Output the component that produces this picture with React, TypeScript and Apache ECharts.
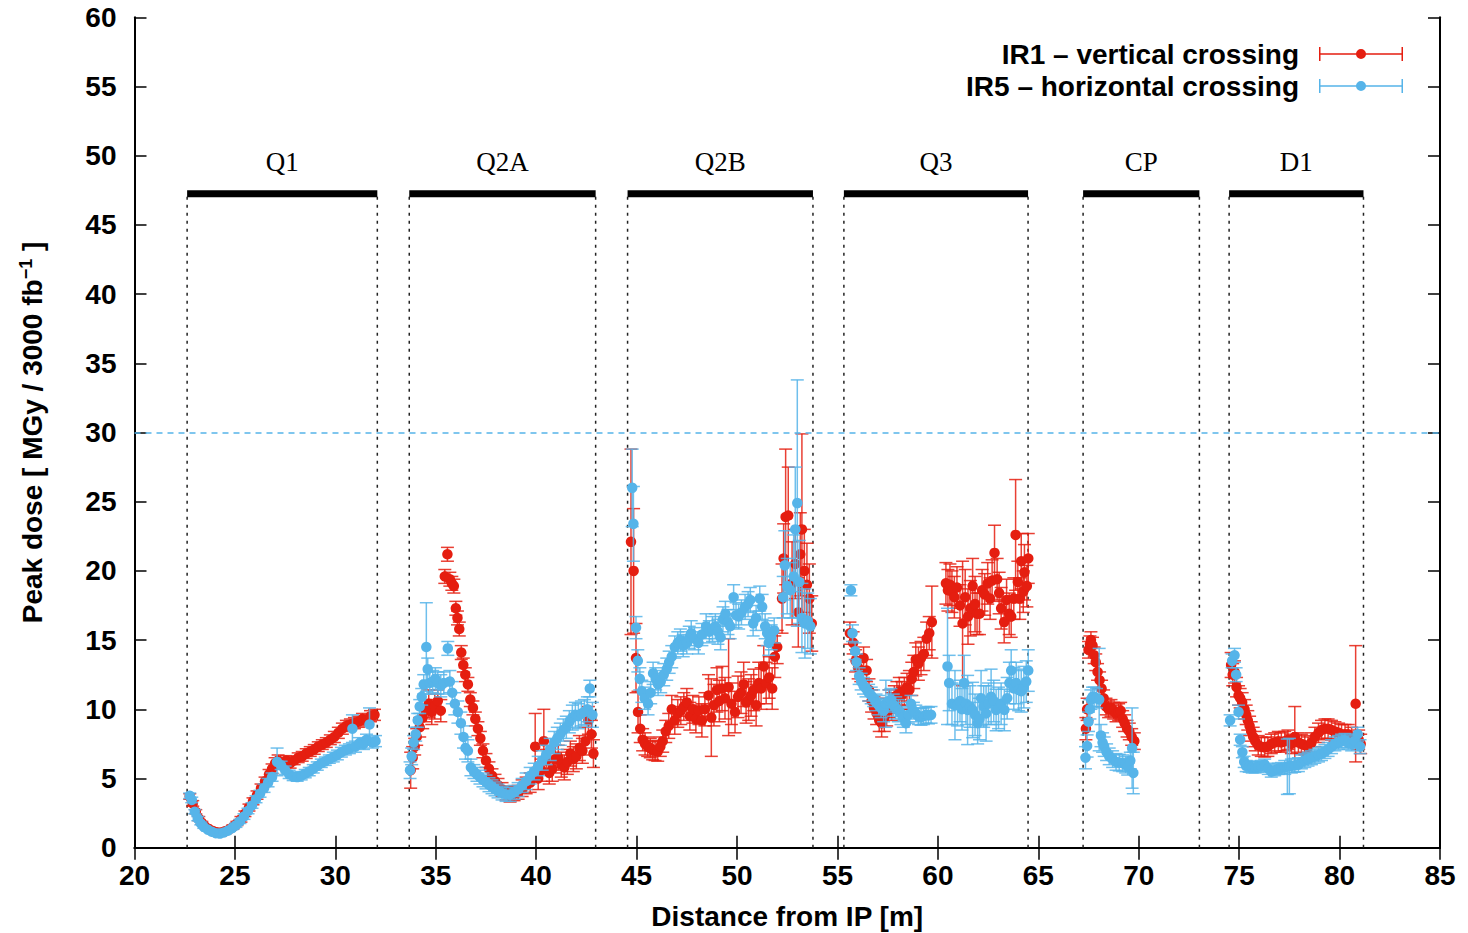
import React, { useEffect, useRef } from "react";
import * as echarts from "echarts";

// ---------- magnets ----------
const magnetNames = ["Q1", "Q2A", "Q2B", "Q3", "CP", "D1"];
const magnetStart = [22.62, 33.68, 44.55, 55.32, 67.23, 74.5];
const magnetEnd = [32.09, 42.96, 53.78, 64.49, 73.02, 81.19];
const magnetBarLevel = 47.25;
const magnetLabelLevel = 49.55;
const doseLimit = 30;

// ---------- axes ----------
const xTicks = [20, 25, 30, 35, 40, 45, 50, 55, 60, 65, 70, 75, 80, 85];
const yTicks = [0, 5, 10, 15, 20, 25, 30, 35, 40, 45, 50, 55, 60];

// ---------- IR1 – vertical crossing : [distance m, dose MGy, error] ----------
const ir1Q1 = [
  [22.75, 3.7, 0.2], [22.9, 3.2, 0.2], [23.05, 2.6, 0.15], [23.2, 2.1, 0.15], [23.35, 1.8, 0.1],
  [23.5, 1.55, 0.1], [23.7, 1.35, 0.1], [23.9, 1.2, 0.1], [24.1, 1.12, 0.1], [24.3, 1.1, 0.1],
  [24.5, 1.18, 0.1], [24.7, 1.3, 0.1], [24.9, 1.5, 0.15], [25.1, 1.75, 0.15], [25.3, 2.05, 0.2],
  [25.5, 2.45, 0.2], [25.7, 2.9, 0.25], [25.9, 3.35, 0.25], [26.1, 3.8, 0.3], [26.3, 4.3, 0.3],
  [26.5, 4.8, 0.3], [26.7, 5.3, 0.35], [26.85, 5.7, 0.35], [27.0, 6.1, 0.4], [27.15, 6.3, 0.4],
  [27.35, 6.0, 0.3], [27.55, 6.3, 0.35], [27.75, 6.1, 0.35], [27.95, 6.3, 0.3], [28.15, 6.5, 0.35],
  [28.35, 6.6, 0.35], [28.55, 6.8, 0.35], [28.75, 6.95, 0.35], [28.95, 7.1, 0.35], [29.15, 7.3, 0.35],
  [29.35, 7.45, 0.35], [29.55, 7.6, 0.35], [29.75, 7.8, 0.35], [29.95, 8.0, 0.4], [30.15, 8.3, 0.4],
  [30.35, 8.6, 0.4], [30.55, 8.8, 0.4], [30.75, 8.9, 0.4], [30.95, 9.0, 0.4], [31.15, 9.1, 0.4],
  [31.35, 9.3, 0.4], [31.55, 9.2, 0.4], [31.75, 9.5, 0.4], [31.95, 9.6, 0.4],
];
const ir1Q2A = [
  [33.75, 5.6, 1.3], [33.85, 6.5, 0.8], [33.95, 7.3, 0.6], [34.05, 8.0, 0.6], [34.2, 8.7, 0.7],
  [34.35, 9.4, 0.8], [34.5, 9.9, 0.8], [34.65, 10.4, 1.0], [34.8, 9.8, 0.9], [34.95, 10.2, 0.9],
  [35.1, 10.6, 0.8], [35.25, 9.9, 0.8], [35.45, 19.6, 0.5], [35.58, 21.2, 0.5], [35.7, 19.4, 0.5],
  [35.8, 19.1, 0.5], [35.9, 18.9, 0.5], [36.0, 17.3, 0.5], [36.08, 16.6, 0.5], [36.17, 15.8, 0.5],
  [36.27, 14.1, 0.5], [36.37, 13.2, 0.5], [36.47, 12.5, 0.5], [36.6, 11.8, 0.5], [36.72, 10.7, 0.5],
  [36.85, 10.1, 0.5], [36.97, 9.3, 0.5], [37.1, 8.6, 0.5], [37.22, 7.9, 0.5], [37.35, 7.0, 0.5],
  [37.5, 6.3, 0.5], [37.65, 5.7, 0.5], [37.8, 5.2, 0.5], [37.95, 4.8, 0.5], [38.1, 4.5, 0.5],
  [38.3, 4.2, 0.5], [38.5, 3.95, 0.5], [38.7, 3.8, 0.5], [38.9, 3.9, 0.5], [39.1, 4.0, 0.5],
  [39.3, 4.3, 0.6], [39.5, 4.5, 0.6], [39.7, 4.7, 0.7], [39.95, 7.3, 2.4], [40.1, 5.0, 0.8],
  [40.25, 5.6, 0.8], [40.38, 7.7, 2.3], [40.5, 6.3, 0.8], [40.65, 5.4, 0.8], [40.8, 5.7, 0.9],
  [40.95, 6.4, 1.0], [41.1, 6.5, 0.9], [41.25, 6.0, 0.9], [41.4, 5.8, 0.9], [41.55, 6.2, 0.9],
  [41.7, 6.8, 0.9], [41.85, 6.4, 0.9], [42.0, 6.6, 0.9], [42.15, 7.2, 0.9], [42.3, 7.0, 0.9],
  [42.45, 7.7, 1.0], [42.6, 9.2, 1.0], [42.75, 8.2, 1.0], [42.85, 6.8, 1.0],
];
const ir1Q2B = [
  [44.72, 22.1, 6.7], [44.85, 20.0, 4.5], [44.97, 13.7, 2.5], [45.07, 9.8, 1.5], [45.18, 8.6, 1.0],
  [45.3, 7.8, 0.8], [45.42, 7.5, 0.8], [45.55, 7.3, 0.7], [45.68, 7.2, 0.7], [45.8, 7.05, 0.7],
  [45.92, 7.0, 0.7], [46.05, 6.95, 0.7], [46.18, 7.3, 0.7], [46.3, 7.7, 0.8], [46.45, 8.4, 0.8],
  [46.6, 8.8, 0.9], [46.75, 10.0, 1.0], [46.9, 9.2, 1.0], [47.05, 9.7, 1.0], [47.2, 9.9, 1.0],
  [47.35, 10.2, 1.0], [47.5, 10.5, 1.0], [47.65, 9.5, 1.0], [47.8, 10.0, 1.0], [47.95, 9.3, 1.0],
  [48.1, 9.9, 1.0], [48.25, 9.2, 1.2], [48.4, 10.0, 1.2], [48.58, 11.0, 1.5], [48.72, 9.4, 2.8],
  [48.85, 10.3, 1.5], [49.0, 11.4, 1.6], [49.12, 10.6, 1.5], [49.25, 11.5, 1.6], [49.4, 10.8, 1.5],
  [49.58, 11.6, 3.5], [49.72, 10.4, 1.5], [49.9, 9.8, 1.5], [50.05, 10.9, 1.5], [50.2, 11.2, 1.5],
  [50.33, 11.8, 1.6], [50.45, 10.5, 1.5], [50.58, 10.7, 1.5], [50.7, 11.0, 1.5], [50.83, 11.4, 1.5],
  [50.95, 10.3, 1.5], [51.08, 11.9, 1.5], [51.2, 11.5, 1.5], [51.33, 13.1, 1.5], [51.45, 11.9, 1.5],
  [51.6, 12.3, 1.5], [51.75, 11.5, 1.5], [51.88, 13.8, 1.5], [52.0, 14.5, 1.2], [52.24, 18.0, 2.5],
  [52.32, 20.9, 2.5], [52.42, 23.9, 4.9], [52.55, 24.0, 3.5], [52.74, 19.1, 3.0], [52.9, 20.5, 2.5],
  [53.05, 17.0, 2.5], [53.15, 21.2, 3.0], [53.23, 23.0, 6.9], [53.35, 20.0, 3.0], [53.48, 19.0, 3.0],
  [53.6, 18.0, 2.5], [53.72, 16.2, 2.0],
];
const ir1Q3 = [
  [55.62, 15.5, 0.8], [55.78, 14.8, 0.8], [55.9, 13.5, 0.8], [56.03, 13.0, 0.8], [56.16, 12.8, 0.8],
  [56.3, 13.7, 0.8], [56.45, 12.8, 0.8], [56.57, 11.4, 0.8], [56.7, 10.6, 0.8], [56.82, 10.1, 0.8],
  [56.95, 9.7, 0.8], [57.08, 9.2, 0.8], [57.2, 9.0, 1.0], [57.33, 9.4, 1.0], [57.45, 9.8, 1.0],
  [57.58, 10.4, 1.0], [57.7, 10.2, 1.0], [57.83, 10.7, 1.0], [57.96, 11.0, 1.0], [58.08, 11.3, 1.0],
  [58.2, 11.0, 1.0], [58.33, 11.3, 1.0], [58.46, 11.6, 1.0], [58.58, 11.4, 1.4], [58.7, 12.2, 1.2],
  [58.8, 12.7, 1.2], [58.9, 13.6, 1.2], [59.03, 13.3, 1.2], [59.16, 13.7, 1.2], [59.3, 14.0, 1.2],
  [59.44, 15.1, 1.2], [59.57, 15.5, 1.2], [59.7, 16.3, 2.6],
  [60.4, 19.1, 1.5], [60.5, 18.6, 1.5], [60.6, 19.0, 1.5], [60.7, 18.5, 1.5], [60.82, 18.1, 1.5],
  [60.95, 18.8, 1.5], [61.1, 17.5, 1.5], [61.23, 16.2, 4.5], [61.36, 18.1, 2.0], [61.5, 16.7, 2.0],
  [61.62, 17.3, 2.0], [61.73, 18.9, 2.0], [61.85, 17.6, 2.0], [61.95, 16.9, 1.5], [62.07, 16.9, 1.5],
  [62.2, 18.6, 1.5], [62.33, 18.3, 1.5], [62.48, 19.1, 1.5], [62.6, 18.0, 1.5], [62.7, 19.3, 1.5],
  [62.82, 21.3, 2.0], [62.95, 19.4, 1.5], [63.05, 18.4, 1.5], [63.15, 17.3, 1.5], [63.3, 16.3, 1.5],
  [63.42, 17.9, 1.5], [63.55, 16.9, 1.5], [63.65, 16.7, 1.5], [63.78, 18.0, 1.5], [63.87, 22.6, 4.0],
  [63.98, 19.2, 1.5], [64.08, 18.0, 1.5], [64.15, 20.7, 2.0], [64.25, 18.5, 1.5], [64.31, 19.9, 2.0],
  [64.43, 18.9, 1.5], [64.5, 20.9, 1.8],
];
const ir1CP = [
  [67.37, 8.6, 0.8], [67.43, 10.0, 0.8], [67.5, 14.3, 0.6], [67.57, 14.7, 0.6], [67.62, 15.0, 0.6],
  [67.7, 14.6, 0.6], [67.78, 13.9, 0.6], [67.86, 13.4, 0.6], [67.95, 12.7, 0.6], [68.05, 12.1, 0.6],
  [68.15, 11.5, 0.6], [68.25, 10.8, 0.6], [68.37, 10.2, 0.6], [68.5, 10.0, 0.6], [68.62, 10.1, 0.6],
  [68.75, 9.9, 0.6], [68.87, 9.7, 0.6], [69.0, 9.8, 0.6], [69.1, 9.9, 0.6], [69.2, 9.3, 0.6],
  [69.3, 9.0, 0.6], [69.42, 8.6, 0.6], [69.53, 8.4, 0.6], [69.65, 8.0, 0.6], [69.78, 7.7, 0.6],
];
const ir1D1 = [
  [74.6, 13.2, 0.9], [74.68, 12.5, 0.8], [74.77, 12.7, 0.8], [74.87, 11.6, 0.7], [74.97, 11.0, 0.7],
  [75.05, 10.8, 0.7], [75.15, 10.5, 0.7], [75.27, 10.0, 0.7], [75.35, 9.6, 0.7], [75.43, 9.2, 0.7],
  [75.52, 8.8, 0.7], [75.6, 8.4, 0.7], [75.7, 8.0, 0.7], [75.8, 7.7, 0.7], [75.95, 7.4, 0.7],
  [76.1, 7.3, 0.7], [76.27, 7.25, 0.7], [76.43, 7.3, 0.7], [76.6, 7.5, 0.7], [76.77, 7.6, 0.7],
  [76.95, 7.7, 0.7], [77.1, 7.6, 0.7], [77.27, 7.7, 0.7], [77.43, 7.8, 0.7], [77.6, 7.5, 0.7],
  [77.77, 8.0, 2.2], [77.95, 7.6, 0.7], [78.1, 7.5, 0.7], [78.27, 7.4, 0.7], [78.43, 7.3, 0.7],
  [78.6, 7.6, 0.7], [78.77, 8.0, 0.7], [78.95, 8.3, 0.7], [79.1, 8.5, 0.7], [79.27, 8.6, 0.7],
  [79.43, 8.6, 0.7], [79.6, 8.5, 0.7], [79.77, 8.4, 0.7], [79.95, 8.3, 0.7], [80.1, 8.2, 0.7],
  [80.27, 8.2, 0.7], [80.43, 8.2, 0.7], [80.6, 8.0, 0.7], [80.8, 10.4, 4.2], [80.95, 7.8, 0.7],
  [81.05, 7.5, 0.7],
];

// ---------- IR5 – horizontal crossing : [distance m, dose MGy, error] ----------
const ir5Q1 = [
  [22.75, 3.75, 0.2], [22.85, 3.45, 0.2], [23.0, 2.6, 0.15], [23.15, 2.1, 0.15], [23.3, 1.75, 0.1],
  [23.45, 1.5, 0.1], [23.65, 1.3, 0.1], [23.85, 1.15, 0.1], [24.05, 1.05, 0.1], [24.25, 1.02, 0.1],
  [24.45, 1.1, 0.1], [24.65, 1.22, 0.1], [24.85, 1.4, 0.1], [25.05, 1.62, 0.15], [25.25, 1.9, 0.15],
  [25.45, 2.25, 0.2], [25.65, 2.65, 0.2], [25.85, 3.05, 0.2], [26.05, 3.5, 0.25], [26.25, 3.9, 0.25],
  [26.45, 4.3, 0.3], [26.65, 4.7, 0.3], [26.85, 5.1, 0.3], [27.1, 6.2, 1.0], [27.3, 5.95, 0.3],
  [27.5, 5.6, 0.3], [27.7, 5.3, 0.3], [27.9, 5.15, 0.3], [28.1, 5.1, 0.3], [28.3, 5.2, 0.3],
  [28.5, 5.35, 0.3], [28.7, 5.5, 0.3], [28.9, 5.7, 0.3], [29.1, 5.9, 0.3], [29.3, 6.1, 0.3],
  [29.5, 6.25, 0.3], [29.7, 6.4, 0.3], [29.9, 6.55, 0.35], [30.1, 6.7, 0.35], [30.3, 6.9, 0.35],
  [30.5, 7.05, 0.35], [30.7, 7.15, 0.35], [30.85, 8.6, 1.0], [31.0, 7.3, 0.4], [31.2, 7.55, 0.4],
  [31.4, 7.5, 0.4], [31.55, 7.8, 0.4], [31.7, 8.9, 1.2], [31.85, 7.6, 0.4], [32.0, 7.7, 0.4],
];
const ir5Q2A = [
  [33.72, 5.6, 0.6], [33.8, 6.6, 0.6], [33.9, 7.6, 0.5], [34.0, 8.2, 0.5], [34.1, 9.2, 0.5],
  [34.2, 10.2, 0.5], [34.3, 10.9, 0.6], [34.4, 11.8, 0.7], [34.53, 14.5, 3.2], [34.6, 12.9, 0.8],
  [34.7, 11.9, 0.8], [34.85, 12.0, 0.8], [34.98, 12.2, 0.8], [35.1, 11.9, 0.8], [35.25, 11.7, 0.8],
  [35.4, 11.9, 0.8], [35.6, 14.4, 0.5], [35.7, 12.0, 0.8], [35.82, 11.2, 0.8], [35.95, 10.4, 0.8],
  [36.1, 9.8, 0.8], [36.25, 9.0, 0.8], [36.38, 8.0, 0.8], [36.48, 7.2, 0.8], [36.6, 7.0, 0.8],
  [36.75, 5.8, 0.6], [36.9, 5.5, 0.5], [37.05, 5.3, 0.5], [37.2, 5.1, 0.5], [37.35, 4.9, 0.5],
  [37.5, 4.75, 0.5], [37.65, 4.55, 0.5], [37.8, 4.4, 0.5], [37.95, 4.25, 0.5], [38.1, 4.1, 0.5],
  [38.3, 3.95, 0.5], [38.5, 3.85, 0.5], [38.7, 3.85, 0.5], [38.9, 4.0, 0.5], [39.1, 4.2, 0.5],
  [39.3, 4.5, 0.5], [39.5, 4.8, 0.6], [39.7, 5.2, 0.6], [39.9, 5.5, 0.6], [40.1, 5.9, 0.7],
  [40.3, 6.3, 0.7], [40.5, 6.7, 0.7], [40.7, 7.1, 0.8], [40.9, 7.6, 0.8], [41.05, 7.9, 0.8],
  [41.2, 8.2, 0.8], [41.35, 8.5, 0.8], [41.5, 8.7, 0.8], [41.65, 9.1, 0.8], [41.8, 9.4, 0.9],
  [41.95, 9.6, 0.9], [42.1, 9.5, 0.9], [42.25, 9.7, 0.9], [42.4, 9.8, 0.9], [42.55, 10.0, 0.9],
  [42.67, 11.5, 0.6], [42.8, 9.6, 0.9],
];
const ir5Q2B = [
  [44.78, 26.0, 2.8], [44.84, 23.4, 2.7], [44.97, 15.9, 0.8], [45.06, 13.5, 0.8], [45.16, 12.2, 0.8],
  [45.26, 11.3, 0.8], [45.4, 10.8, 0.8], [45.57, 10.4, 0.8], [45.7, 11.2, 0.8], [45.82, 12.6, 0.8],
  [45.95, 12.2, 0.8], [46.07, 11.8, 0.8], [46.2, 12.0, 0.8], [46.35, 12.5, 0.8], [46.5, 12.9, 0.8],
  [46.62, 13.4, 0.8], [46.75, 13.8, 0.8], [46.9, 14.5, 0.8], [47.05, 14.8, 0.8], [47.18, 15.0, 0.8],
  [47.32, 14.6, 0.8], [47.5, 14.8, 0.8], [47.62, 15.2, 0.8], [47.72, 15.5, 0.9], [47.88, 15.1, 0.8],
  [48.08, 14.8, 0.8], [48.25, 15.4, 0.8], [48.46, 16.0, 0.9], [48.62, 15.6, 0.8], [48.78, 15.8, 0.9],
  [48.92, 16.0, 0.9], [49.05, 15.6, 0.9], [49.18, 15.2, 0.9], [49.3, 16.5, 0.9], [49.42, 16.9, 0.9],
  [49.55, 16.3, 0.9], [49.66, 16.0, 0.9], [49.83, 18.1, 0.9], [49.95, 16.8, 0.9], [50.08, 16.7, 0.9],
  [50.22, 17.0, 0.9], [50.4, 17.4, 0.9], [50.55, 17.6, 0.9], [50.66, 17.9, 0.9], [50.8, 16.2, 0.9],
  [50.95, 16.6, 0.9], [51.13, 18.0, 0.9], [51.25, 17.4, 0.9], [51.4, 16.0, 0.9], [51.5, 15.5, 0.9],
  [51.58, 14.8, 0.9], [51.7, 15.2, 0.9], [51.85, 15.7, 0.9], [52.3, 18.1, 1.5], [52.38, 20.4, 2.5],
  [52.5, 18.9, 2.0], [52.65, 18.6, 2.0], [52.82, 19.6, 3.0], [52.9, 23.0, 4.5], [53.0, 24.9, 8.9],
  [53.1, 19.2, 3.0], [53.23, 16.6, 2.5], [53.38, 16.2, 2.5], [53.52, 16.4, 2.0], [53.65, 16.0, 2.0],
];
const ir5Q3 = [
  [55.67, 18.6, 0.4], [55.75, 15.5, 0.6], [55.88, 14.2, 0.6], [55.95, 13.4, 0.6], [56.08, 12.4, 0.6],
  [56.18, 12.0, 0.6], [56.3, 11.7, 0.6], [56.42, 11.5, 0.6], [56.55, 11.2, 0.6], [56.68, 11.0, 0.6],
  [56.8, 10.8, 0.6], [56.92, 10.5, 0.6], [57.05, 10.3, 0.7], [57.17, 10.1, 0.7], [57.3, 9.9, 0.8],
  [57.41, 10.4, 1.7], [57.55, 10.6, 0.8], [57.66, 10.7, 0.8], [57.78, 10.3, 0.8], [57.9, 10.1, 0.8],
  [58.03, 9.9, 0.8], [58.16, 9.7, 0.8], [58.28, 9.4, 0.7], [58.41, 9.0, 0.7], [58.53, 9.6, 0.6],
  [58.66, 10.4, 0.6], [58.78, 9.9, 0.6], [58.9, 9.7, 0.6], [59.03, 9.5, 0.6], [59.16, 9.45, 0.6],
  [59.28, 9.5, 0.6], [59.41, 9.6, 0.6], [59.53, 9.55, 0.6], [59.66, 9.6, 0.6],
  [60.48, 13.1, 4.2], [60.56, 11.9, 2.0], [60.7, 10.4, 1.5], [60.85, 10.3, 2.5], [60.98, 10.3, 1.5],
  [61.1, 10.6, 1.5], [61.2, 10.0, 1.5], [61.31, 11.9, 2.0], [61.4, 10.4, 1.5], [61.48, 9.95, 2.5],
  [61.6, 10.2, 1.5], [61.73, 9.95, 2.0], [61.85, 9.6, 1.5], [61.98, 9.0, 1.5], [62.07, 9.3, 1.5],
  [62.15, 10.8, 2.0], [62.28, 10.2, 1.5], [62.4, 9.7, 2.0], [62.52, 10.4, 1.5], [62.65, 10.9, 2.0],
  [62.78, 10.6, 1.5], [62.9, 9.95, 1.5], [63.02, 10.1, 1.5], [63.15, 10.4, 1.5], [63.31, 9.95, 1.5],
  [63.45, 10.8, 1.5], [63.56, 11.9, 1.5], [63.65, 12.8, 1.5], [63.78, 11.5, 1.5], [63.9, 11.9, 1.5],
  [64.02, 11.4, 1.5], [64.15, 11.3, 1.5], [64.28, 11.6, 1.5], [64.4, 12.0, 1.5], [64.5, 12.8, 1.5],
];
const ir5CP = [
  [67.35, 6.5, 0.8], [67.43, 7.35, 0.8], [67.5, 9.1, 0.7], [67.57, 10.0, 0.7], [67.62, 10.7, 0.7],
  [67.7, 10.9, 0.7], [67.78, 10.9, 0.7], [67.9, 10.8, 0.7], [68.03, 10.7, 3.7], [68.12, 8.1, 0.8],
  [68.2, 7.6, 0.7], [68.28, 7.3, 0.7], [68.4, 6.9, 0.6], [68.53, 6.6, 0.6], [68.7, 6.4, 0.6],
  [68.87, 6.2, 0.6], [69.03, 6.15, 0.6], [69.2, 6.1, 0.6], [69.35, 6.0, 0.6], [69.45, 5.85, 0.6],
  [69.58, 6.3, 0.6], [69.67, 7.2, 2.9], [69.73, 5.4, 1.5],
];
const ir5D1 = [
  [74.55, 9.2, 0.4], [74.65, 13.5, 0.5], [74.77, 13.9, 0.5], [74.85, 12.5, 0.5], [74.97, 9.8, 0.5],
  [75.05, 7.8, 0.4], [75.16, 6.9, 0.4], [75.25, 6.2, 0.4], [75.35, 5.9, 0.4], [75.5, 5.85, 0.4],
  [75.65, 5.8, 0.4], [75.8, 5.8, 0.4], [75.95, 5.85, 0.4], [76.1, 5.9, 0.4], [76.27, 6.0, 0.4],
  [76.45, 5.7, 0.4], [76.6, 5.5, 0.4], [76.77, 5.6, 0.4], [76.95, 5.7, 0.4], [77.1, 5.75, 0.4],
  [77.27, 5.8, 0.5], [77.4, 5.85, 2.0], [77.5, 5.9, 2.0], [77.6, 5.9, 0.5], [77.77, 5.95, 0.5],
  [77.95, 6.0, 0.5], [78.1, 6.2, 0.5], [78.27, 6.3, 0.5], [78.43, 6.4, 0.5], [78.6, 6.5, 0.5],
  [78.77, 6.6, 0.5], [78.95, 6.7, 0.5], [79.1, 6.8, 0.5], [79.27, 6.95, 0.5], [79.43, 7.1, 0.5],
  [79.6, 7.3, 0.5], [79.77, 7.5, 0.5], [79.95, 7.6, 0.5], [80.1, 7.7, 0.5], [80.27, 7.75, 0.5],
  [80.43, 7.6, 0.5], [80.6, 7.5, 0.5], [80.75, 7.7, 0.5], [80.9, 8.2, 0.5], [81.02, 7.3, 0.5],
];

const IR1_NAME = "IR1 – vertical crossing";
const IR5_NAME = "IR5 – horizontal crossing";
const RED = "#e51e10";
const BLUE = "#56b4e9";
const SANS = "'Liberation Sans', Arial, Helvetica, sans-serif";
const SERIF = "'Liberation Serif', 'Times New Roman', serif";

const ir1Data = [...ir1Q1, ...ir1Q2A, ...ir1Q2B, ...ir1Q3, ...ir1CP, ...ir1D1];
const ir5Data = [...ir5Q1, ...ir5Q2A, ...ir5Q2B, ...ir5Q3, ...ir5CP, ...ir5D1];

const legendIcon =
  "path://M0,0H1.5V14H0Z M82.5,0H84V14H82.5Z M0,6.25H84V7.75H0Z M37,7A5,5 0 1 1 47,7A5,5 0 1 1 37,7Z";

function errorBars(color: string) {
  return (_params: any, api: any) => {
    const x = api.value(0);
    const y = api.value(1);
    const e = api.value(2);
    const top = api.coord([x, y + e]);
    const bot = api.coord([x, y - e]);
    const cw = 6.5;
    const style = { stroke: color, lineWidth: 1.5, opacity: 0.85 };
    return {
      type: "group",
      children: [
        { type: "line", shape: { x1: top[0], y1: top[1], x2: bot[0], y2: bot[1] }, style },
        { type: "line", shape: { x1: top[0] - cw, y1: top[1], x2: top[0] + cw, y2: top[1] }, style },
        { type: "line", shape: { x1: bot[0] - cw, y1: bot[1], x2: bot[0] + cw, y2: bot[1] }, style },
      ],
    };
  };
}

function magnetRender(_params: any, api: any) {
  const s = api.value(0);
  const e = api.value(1);
  const i = api.value(2);
  const a = api.coord([s, magnetBarLevel]);
  const b = api.coord([e, magnetBarLevel]);
  const a0 = api.coord([s, 0]);
  const b0 = api.coord([e, 0]);
  const lab = api.coord([(s + e) / 2, magnetLabelLevel]);
  const dash = { stroke: "#222", lineWidth: 1.5, lineDash: [3, 5] };
  return {
    type: "group",
    children: [
      { type: "line", shape: { x1: a0[0], y1: a0[1], x2: a[0], y2: a[1] }, style: dash },
      { type: "line", shape: { x1: b0[0], y1: b0[1], x2: b[0], y2: b[1] }, style: dash },
      {
        type: "line",
        shape: { x1: a[0], y1: a[1], x2: b[0], y2: b[1] },
        style: { stroke: "#000", lineWidth: 7, lineCap: "butt" },
      },
      {
        type: "text",
        x: lab[0],
        y: lab[1],
        style: {
          text: magnetNames[i],
          fill: "#000",
          fontSize: 27,
          fontFamily: SERIF,
          align: "center",
          verticalAlign: "middle",
        },
      },
    ],
  };
}

export default function App() {
  const ref = useRef<HTMLDivElement>(null);
  useEffect(() => {
    if (!ref.current) return;
    const chart = echarts.init(ref.current, undefined, { renderer: "svg" });
    const axisLine = { show: true, lineStyle: { color: "#000", width: 2 } };
    const tick = { show: true, inside: true, length: 12, lineStyle: { color: "#000", width: 1.5 } };
    const labelFont = { fontFamily: SANS, fontWeight: "bold" as const, fontSize: 28, color: "#000" };
    const option: any = {
      animation: false,
      backgroundColor: "#fff",
      grid: { left: 134.5, right: 28, top: 17.3, bottom: 85.3, outerBoundsMode: "none" },
      legend: {
        data: [IR1_NAME, IR5_NAME],
        orient: "vertical",
        right: 60,
        top: 35,
        align: "right",
        itemWidth: 84,
        itemHeight: 14,
        itemGap: 4,
        icon: legendIcon,
        selectedMode: false,
        textStyle: {
          fontFamily: SANS,
          fontWeight: "bold",
          fontSize: 28,
          lineHeight: 28,
          color: "#000",
          padding: [0, 15, 0, 0],
        },
      },
      xAxis: [
        {
          type: "value",
          min: 20,
          max: 85,
          interval: 5,
          name: "Distance from IP [m]",
          nameLocation: "middle",
          nameGap: 55,
          nameTextStyle: { fontFamily: SANS, fontWeight: "bold", fontSize: 28, color: "#000" },
          axisLine,
          axisTick: tick,
          splitLine: { show: false },
          axisLabel: { ...labelFont, margin: 14, formatter: (v: number) => (xTicks.includes(v) ? String(v) : "") },
        },
        {
          type: "value",
          position: "top",
          min: 20,
          max: 85,
          interval: 5,
          axisLine,
          axisTick: tick,
          axisLabel: { show: false },
          splitLine: { show: false },
        },
      ],
      yAxis: [
        {
          type: "value",
          min: 0,
          max: 60,
          interval: 5,
          name: "{a|Peak dose [ MGy / 3000 fb}{s|−1}{a| ]}",
          nameLocation: "middle",
          nameGap: 86,
          nameRotate: 90,
          nameTextStyle: {
            rich: {
              a: { fontFamily: SANS, fontWeight: "bold", fontSize: 28, color: "#000", lineHeight: 32 },
              s: { fontFamily: SANS, fontWeight: "bold", fontSize: 18, color: "#000", lineHeight: 14, verticalAlign: "top" },
            },
          },
          axisLine,
          axisTick: tick,
          splitLine: { show: false },
          axisLabel: { ...labelFont, margin: 18, formatter: (v: number) => (yTicks.includes(v) ? String(v) : "") },
        },
        {
          type: "value",
          position: "right",
          min: 0,
          max: 60,
          interval: 5,
          axisLine,
          axisTick: tick,
          axisLabel: { show: false },
          splitLine: { show: false },
        },
      ],
      series: [
        {
          type: "custom",
          name: "magnets",
          z: 1,
          silent: true,
          renderItem: magnetRender,
          data: magnetNames.map((_n, i) => [magnetStart[i], magnetEnd[i], i]),
          encode: { x: [0, 1] },
        },
        {
          type: "custom",
          name: "IR1 errors",
          z: 2,
          silent: true,
          renderItem: errorBars(RED),
          data: ir1Data,
          encode: { x: 0, y: 1 },
        },
        {
          type: "scatter",
          name: IR1_NAME,
          z: 3,
          symbol: "circle",
          symbolSize: 10.5,
          itemStyle: { color: RED, opacity: 1 },
          data: ir1Data.map((d) => [d[0], d[1]]),
        },
        {
          type: "custom",
          name: "IR5 errors",
          z: 4,
          silent: true,
          renderItem: errorBars(BLUE),
          data: ir5Data,
          encode: { x: 0, y: 1 },
        },
        {
          type: "scatter",
          name: IR5_NAME,
          z: 5,
          symbol: "circle",
          symbolSize: 10.5,
          itemStyle: { color: BLUE, opacity: 1 },
          data: ir5Data.map((d) => [d[0], d[1]]),
          markLine: {
            silent: true,
            symbol: ["none", "none"],
            label: { show: false },
            lineStyle: { color: BLUE, width: 1.5, type: [6, 5] },
            data: [{ yAxis: doseLimit }],
          },
        },
      ],
    };
    chart.setOption(option);
    return () => chart.dispose();
  }, []);
  return (
    <div
      ref={ref}
      style={{ position: "fixed", left: 0, top: 0, width: 1468, height: 933, background: "#fff" }}
    />
  );
}
